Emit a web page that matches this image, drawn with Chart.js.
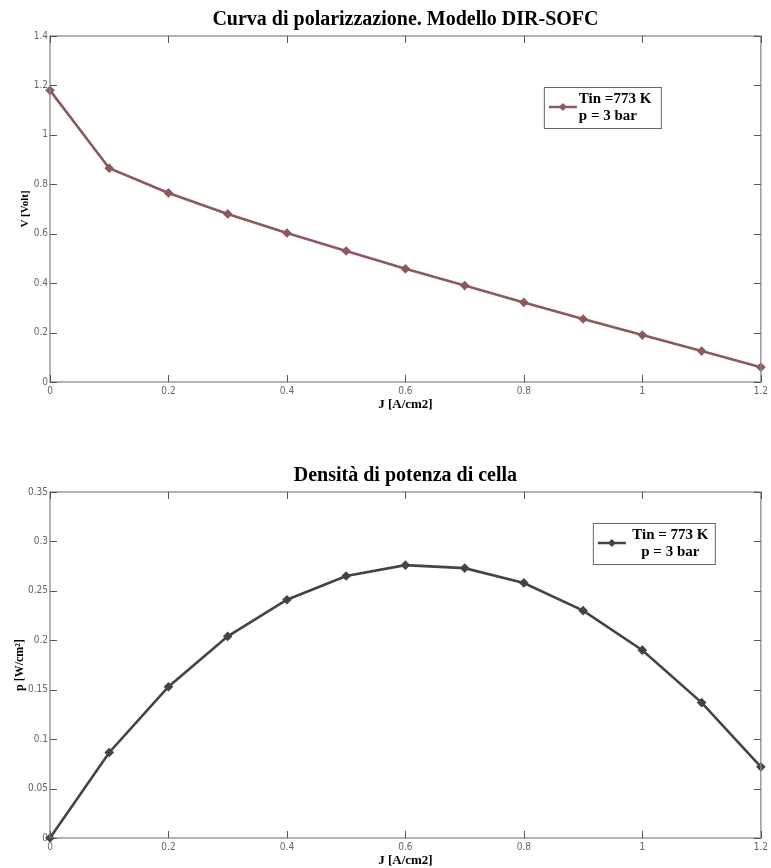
<!doctype html>
<html>

<head>
    <title>Curva di polarizzazione</title>
    <script src="https://cdn.jsdelivr.net/npm/chart.js"></script>
    <style>
        body { margin: 0; background: #fff; }
        .grafico { position: absolute; left: 0; width: 771px; }
    </style>
</head>

<body>
    <div class="grafico" style="top:0; height:412px;">
        <canvas id="polarizzazione" width="771" height="412"></canvas>
    </div>
    <div class="grafico" style="top:456px; height:412px;">
        <canvas id="potenza" width="771" height="412"></canvas>
    </div>

    <script>
        // dati
        var correnti = [0, 0.1, 0.2, 0.3, 0.4, 0.5, 0.6, 0.7, 0.8, 0.9, 1.0, 1.1, 1.2]
        var tensioni = [1.18, 0.865, 0.765, 0.68, 0.603, 0.53, 0.458, 0.39, 0.322, 0.255, 0.19, 0.125, 0.06]
        var potenze = [0, 0.0865, 0.153, 0.204, 0.241, 0.265, 0.276, 0.273, 0.258, 0.23, 0.19, 0.137, 0.072]
        var ticksX = [0, 0.2, 0.4, 0.6, 0.8, 1, 1.2]
        var ticksV = [0, 0.2, 0.4, 0.6, 0.8, 1, 1.2, 1.4]
        var ticksP = [0, 0.05, 0.1, 0.15, 0.2, 0.25, 0.3, 0.35]

        var serif = '"Liberation Serif", "Times New Roman", serif'
        var sans = '"Liberation Sans Narrow", "DejaVu Sans Condensed", "Liberation Sans", Arial, sans-serif'

        // box stile matlab: bordo, tacche interne e legenda
        var boxMatlab = {
            id: 'boxMatlab',
            afterDraw(chart, args, opts) {
                var ctx = chart.ctx
                var a = chart.chartArea
                var sx = chart.scales.x, sy = chart.scales.y
                ctx.save()
                ctx.strokeStyle = '#8a8a8a'
                ctx.lineWidth = 1.3
                ctx.strokeRect(a.left, a.top, a.right - a.left, a.bottom - a.top)
                ctx.strokeStyle = '#555'
                ctx.lineWidth = 1
                ctx.beginPath()
                sx.ticks.forEach(t => {
                    var x = Math.round(sx.getPixelForValue(t.value)) + 0.5
                    ctx.moveTo(x, a.bottom); ctx.lineTo(x, a.bottom - 7)
                    ctx.moveTo(x, a.top); ctx.lineTo(x, a.top + 7)
                })
                sy.ticks.forEach(t => {
                    var y = Math.round(sy.getPixelForValue(t.value)) + 0.5
                    ctx.moveTo(a.left, y); ctx.lineTo(a.left + 7, y)
                    ctx.moveTo(a.right, y); ctx.lineTo(a.right - 7, y)
                })
                ctx.stroke()

                // legenda
                var l = a.right - opts.destra - opts.larghezza
                var t = a.top + opts.alto
                ctx.fillStyle = '#fff'
                ctx.fillRect(l, t, opts.larghezza, 41)
                ctx.strokeStyle = '#666'
                ctx.lineWidth = 1
                ctx.strokeRect(l + 0.5, t + 0.5, opts.larghezza, 41)
                ctx.strokeStyle = opts.colore
                ctx.lineWidth = 2.5
                ctx.beginPath()
                ctx.moveTo(l + 5, t + 20); ctx.lineTo(l + 33, t + 20)
                ctx.stroke()
                ctx.fillStyle = opts.colore
                ctx.beginPath()
                ctx.moveTo(l + 19, t + 16); ctx.lineTo(l + 23, t + 20)
                ctx.lineTo(l + 19, t + 24); ctx.lineTo(l + 15, t + 20)
                ctx.closePath(); ctx.fill()
                ctx.fillStyle = '#000'
                ctx.font = 'bold 15px ' + serif
                ctx.textBaseline = 'middle'
                ctx.textAlign = opts.allinea
                var tx = opts.allinea == 'center' ? l + 35 + (opts.larghezza - 37) / 2 : l + 35
                ctx.fillText(opts.testo[0], tx, t + 12)
                ctx.fillText(opts.testo[1], tx, t + 29)
                ctx.restore()
            }
        }

        function creaGrafico(id, valori, ticksY, maxY, colore, titolo, titoloY, fontY, xTitoloY, legenda) {
            return new Chart(document.getElementById(id).getContext('2d'), {
                type: 'line',
                data: {
                    datasets: [{
                        data: correnti.map((j, i) => ({ x: j, y: valori[i] })),
                        borderColor: colore,
                        backgroundColor: colore,
                        borderWidth: 2.6,
                        pointStyle: 'rectRot',
                        pointRadius: 3,
                        tension: 0,
                        clip: false
                    }]
                },
                options: {
                    responsive: false,
                    animation: false,
                    layout: { padding: { right: 9, left: 14 } },
                    plugins: {
                        legend: { display: false },
                        tooltip: { enabled: false },
                        title: {
                            display: true,
                            fullSize: false,
                            text: titolo,
                            color: '#000',
                            font: { size: 20, weight: 'bold', family: serif, lineHeight: 1.2 },
                            padding: { top: 8, bottom: 4 }
                        },
                        boxMatlab: legenda
                    },
                    scales: {
                        x: {
                            type: 'linear',
                            min: 0,
                            max: 1.2,
                            afterBuildTicks: s => { s.ticks = ticksX.map(v => ({ value: v })) },
                            afterFit: s => { s.height = 30 },
                            grid: { display: false, drawTicks: false },
                            border: { display: false },
                            ticks: {
                                color: '#666',
                                padding: 3,
                                font: { size: 10, family: sans },
                                maxRotation: 0,
                                callback: v => String(v)
                            },
                            title: {
                                display: true,
                                text: 'J [A/cm2]',
                                color: '#000',
                                font: { size: 13, weight: 'bold', family: serif },
                                padding: 0
                            }
                        },
                        y: {
                            min: 0,
                            max: maxY,
                            afterBuildTicks: s => { s.ticks = ticksY.map(v => ({ value: v })) },
                            afterFit: s => { s.width = 36 },
                            grid: { display: false, drawTicks: false },
                            border: { display: false },
                            ticks: {
                                color: '#666',
                                padding: 2,
                                font: { size: 10, family: sans },
                                callback: v => String(v)
                            },
                            title: {
                                display: true,
                                text: titoloY,
                                color: '#000',
                                font: { size: fontY, weight: 'bold', family: serif, lineHeight: 1.2 },
                                padding: { top: xTitoloY - 14 - fontY * 0.6, bottom: 0 }
                            }
                        }
                    }
                },
                plugins: [boxMatlab]
            })
        }

        var grafico1 = creaGrafico('polarizzazione', tensioni, ticksV, 1.4, '#8a5a5d',
            'Curva di polarizzazione. Modello DIR-SOFC', 'V [Volt]', 11, 25,
            { destra: 100, larghezza: 117, alto: 51, colore: '#8a5a5d', allinea: 'left', testo: ['Tin =773 K', 'p = 3 bar'] })

        var grafico2 = creaGrafico('potenza', potenze, ticksP, 0.35, '#444444',
            'Densità di potenza di cella', 'p [W/cm²]', 12, 20,
            { destra: 46, larghezza: 122, alto: 31, colore: '#444444', allinea: 'center', testo: ['Tin = 773 K', 'p = 3 bar'] })
    </script>
</body>

</html>
